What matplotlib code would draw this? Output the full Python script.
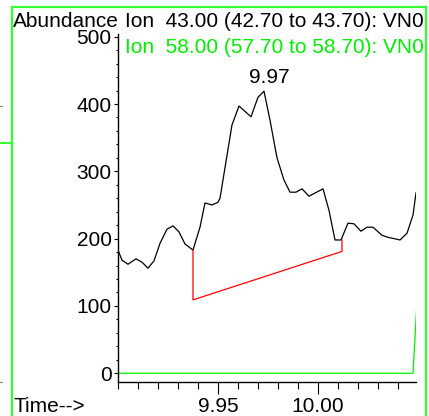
import matplotlib
matplotlib.use("Agg")
import matplotlib.pyplot as plt
from matplotlib.lines import Line2D
from matplotlib.ticker import MultipleLocator, FixedLocator

plt.rcParams['font.family'] = ['Liberation Sans', 'DejaVu Sans']

# ---- data ----
time_43 = [9.900, 9.902, 9.905, 9.909, 9.912, 9.915, 9.918, 9.921, 9.9245, 9.9275,
           9.9305, 9.9335, 9.9375, 9.941, 9.9435, 9.947, 9.950, 9.951, 9.957, 9.9605,
           9.9665, 9.970, 9.973, 9.976, 9.9795, 9.983, 9.986, 9.989, 9.992, 9.9955,
           10.0025, 10.0055, 10.0085, 10.0115, 10.015, 10.018, 10.0215, 10.0245, 10.0275,
           10.032, 10.035, 10.041, 10.0445, 10.0475, 10.049]
abund_43 = [183, 168, 162, 170, 165, 156, 167, 193, 214, 219,
            210, 192, 183, 217, 253, 250, 254, 260, 369, 397,
            381, 410, 419, 376, 320, 287, 269, 269, 274, 263,
            274, 242, 198, 198, 223, 222, 211, 217, 217,
            205, 202, 198, 208, 235, 268]

time_58 = [9.900, 10.0475, 10.0493]
abund_58 = [0, 0, 95]

baseline_time = [9.9375, 9.9375, 10.012, 10.012]
baseline_abund = [183, 109, 181, 198]

peak_label = "9.97"
peak_label_pos = (9.9755, 431)

title_43 = "Ion  43.00 (42.70 to 43.70): VN0"
title_58 = "Ion  58.00 (57.70 to 58.70): VN0"
y_major = [0, 100, 200, 300, 400, 500]
x_major = [9.95, 10.00]
x_major_labels = ["9.95", "10.00"]

W, H = 429, 416
fig = plt.figure(figsize=(W / 100, H / 100), dpi=100)

def fx(px):
    return px / W

def fy(py):
    return 1 - py / H

FS = 15

ax = fig.add_axes([fx(118), fy(382), fx(416) - fx(118), fy(34) - fy(382)])
ax.plot(time_43, abund_43, color='black', lw=0.9)
ax.plot(time_58, abund_58, color='#00ee00', lw=0.9)
ax.plot(baseline_time, baseline_abund, color='#ff0000', lw=0.9)
ax.text(peak_label_pos[0], peak_label_pos[1], peak_label, ha='center', va='baseline',
        fontsize=FS, clip_on=False)

ax.set_xlim(9.900, 10.049)
ax.set_ylim(-13, 504)
for s in ['top', 'right']:
    ax.spines[s].set_visible(False)
for s in ['left', 'bottom']:
    ax.spines[s].set_linewidth(1.0)

ax.yaxis.set_major_locator(FixedLocator(y_major))
ax.yaxis.set_minor_locator(MultipleLocator(20))
ax.xaxis.set_major_locator(FixedLocator(x_major))
ax.set_xticklabels(x_major_labels)
ax.xaxis.set_minor_locator(MultipleLocator(0.01))
ax.tick_params(axis='y', which='major', length=3, width=0.8, pad=1.5, labelsize=FS)
ax.tick_params(axis='y', which='minor', length=1.5, width=0.8)
ax.tick_params(axis='x', which='major', length=8.5, width=0.8, pad=2, labelsize=FS)
ax.tick_params(axis='x', which='minor', length=5, width=0.8)

# overlay for header texts, clipped at the green frame
ov = fig.add_axes([fx(12), fy(416), fx(426) - fx(12), fy(7) - fy(416)])
ov.set_xlim(12, 426)
ov.set_ylim(416, 7)
ov.axis('off')
ov.patch.set_alpha(0)
ov.text(13, 27, "Abundance", fontsize=FS, va='baseline', ha='left', clip_on=True)
ov.text(125, 27, title_43, fontsize=FS, va='baseline', ha='left', color='black', clip_on=True)
ov.text(125, 53, title_58, fontsize=FS, va='baseline', ha='left', color='#00ee00', clip_on=True)
ov.text(13, 412, "Time-->", fontsize=FS, va='baseline', ha='left', clip_on=True)

green = '#33ff33'
fig.lines.append(Line2D([fx(12), fx(12)], [fy(7), fy(416)], color=green, lw=1.6, transform=fig.transFigure))
fig.lines.append(Line2D([fx(12), fx(426)], [fy(7), fy(7)], color=green, lw=1.6, transform=fig.transFigure))
fig.lines.append(Line2D([fx(426), fx(426)], [fy(7), fy(416)], color=green, lw=1.6, transform=fig.transFigure))
fig.lines.append(Line2D([fx(0), fx(11)], [fy(143), fy(143)], color=green, lw=1.4, transform=fig.transFigure))
fig.lines.append(Line2D([fx(0), fx(2)], [fy(106), fy(106)], color='#888888', lw=0.8, transform=fig.transFigure))
fig.lines.append(Line2D([fx(0), fx(2)], [fy(382), fy(382)], color='#888888', lw=0.8, transform=fig.transFigure))

fig.savefig("out.png", dpi=100)
